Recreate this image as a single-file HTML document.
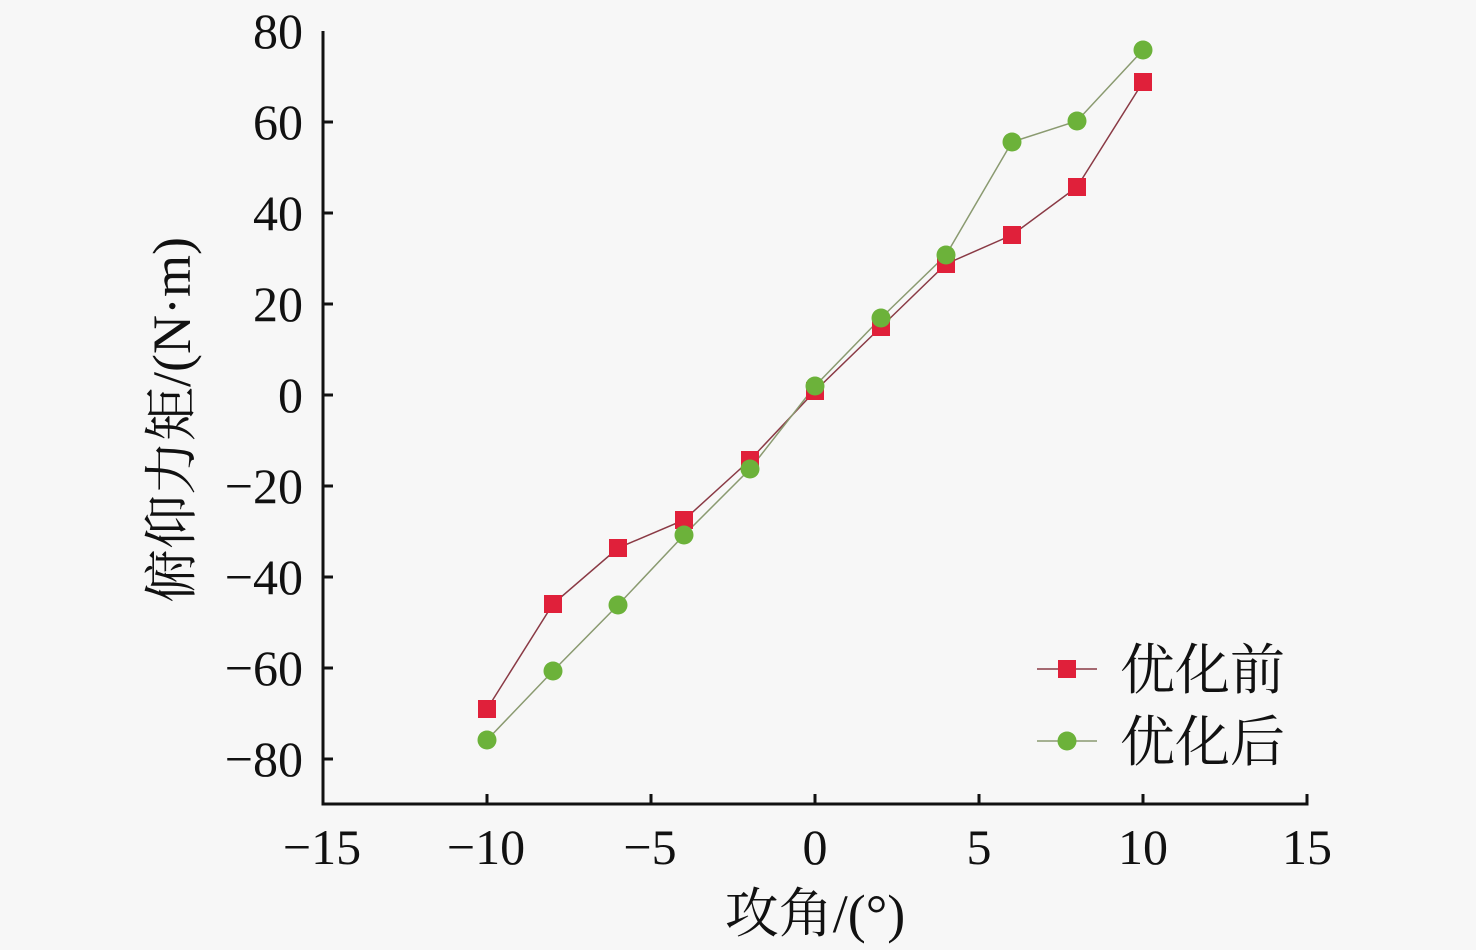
<!DOCTYPE html>
<html><head><style>body{margin:0;background:#f7f7f7}</style></head><body>
<svg width="1476" height="950" xmlns="http://www.w3.org/2000/svg" style="display:block">
<rect width="1476" height="950" fill="#f7f7f7"/>
<g font-family="Liberation Serif, Noto Serif CJK SC, serif" font-size="50" fill="#111">
<g text-anchor="end">
<text x="303" y="48">80</text><text x="303" y="139">60</text><text x="303" y="230">40</text><text x="303" y="321">20</text><text x="303" y="412">0</text><text x="303" y="503">−20</text><text x="303" y="594">−40</text><text x="303" y="685">−60</text><text x="303" y="776">−80</text>
</g>
<g text-anchor="middle">
<text x="322" y="864">−15</text><text x="486" y="864">−10</text><text x="650" y="864">−5</text><text x="815" y="864">0</text><text x="979" y="864">5</text><text x="1143" y="864">10</text><text x="1307" y="864">15</text>
<text x="815" y="932" font-size="54">攻角/(°)</text>
<text transform="translate(190,420) rotate(-90)" font-size="54">俯仰力矩/(N·m)</text>
</g>
<text x="1120" y="689" font-size="55">优化前</text>
<text x="1120" y="761" font-size="55">优化后</text>
</g>
<g stroke="#111" stroke-width="3" fill="none">
<path d="M323,31V804H1307V794"/>
<path d="M323,122h10M323,213h10M323,304h10M323,395h10M323,486h10M323,577h10M323,668h10M323,759h10"/>
<path d="M487,804v-10M651,804v-10M815,804v-10M979,804v-10M1143,804v-10"/>
</g>
<g fill="none" stroke-width="1.5">
<polyline stroke="#8a3a45" points="487,709 553,604 618,548 684,520 750,460 815,391 881,327 946,264 1012,235 1077,187 1143,82"/>
<polyline stroke="#8a9a70" points="487,740 553,671 618,605 684,535 750,469 815,386 881,318 946,255 1012,142 1077,121 1143,50"/>
<line x1="1037" y1="669" x2="1097" y2="669" stroke="#8a3a45"/>
<line x1="1037" y1="741" x2="1097" y2="741" stroke="#8a9a70"/>
</g>
<g fill="#e0203a">
<rect x="478" y="700" width="18" height="18"/><rect x="544" y="595" width="18" height="18"/><rect x="609" y="539" width="18" height="18"/><rect x="675" y="511" width="18" height="18"/><rect x="741" y="451" width="18" height="18"/><rect x="806" y="382" width="18" height="18"/><rect x="872" y="318" width="18" height="18"/><rect x="937" y="255" width="18" height="18"/><rect x="1003" y="226" width="18" height="18"/><rect x="1068" y="178" width="18" height="18"/><rect x="1134" y="73" width="18" height="18"/>
<rect x="1058" y="660" width="18" height="18"/>
</g>
<g fill="#6cb23a">
<circle cx="487" cy="740" r="9.5"/><circle cx="553" cy="671" r="9.5"/><circle cx="618" cy="605" r="9.5"/><circle cx="684" cy="535" r="9.5"/><circle cx="750" cy="469" r="9.5"/><circle cx="815" cy="386" r="9.5"/><circle cx="881" cy="318" r="9.5"/><circle cx="946" cy="255" r="9.5"/><circle cx="1012" cy="142" r="9.5"/><circle cx="1077" cy="121" r="9.5"/><circle cx="1143" cy="50" r="9.5"/>
<circle cx="1067" cy="741" r="9.5"/>
</g>
</svg>
</body></html>
